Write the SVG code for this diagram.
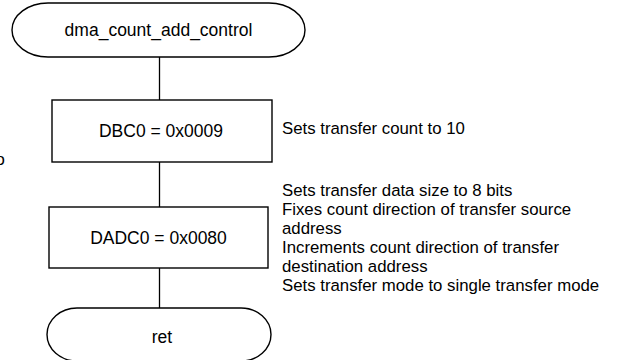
<svg xmlns="http://www.w3.org/2000/svg" width="624" height="360" viewBox="0 0 624 360">
<style>
.shape{fill:#fff;stroke:#000;stroke-width:1.4}
.conn{fill:none;stroke:#000;stroke-width:1.3}
.lbl{font-family:"Liberation Sans",Arial,Helvetica,sans-serif;font-size:17.5px;fill:#000;text-anchor:middle}
.note{font-family:"Liberation Sans",Arial,Helvetica,sans-serif;font-size:16.8px;fill:#000}
</style>
<rect width="624" height="360" fill="#fff"/>
<g id="connectors">
<line class="conn" x1="159.5" y1="57" x2="159.5" y2="100"/>
<line class="conn" x1="159.5" y1="162" x2="159.5" y2="207"/>
<line class="conn" x1="159.5" y1="268" x2="159.5" y2="308"/>
</g>
<g id="start">
<rect class="shape" x="12" y="3" width="293" height="54" rx="36" ry="27"/>
<text class="lbl" x="158.5" y="36">dma_count_add_control</text>
</g>
<g id="dbc0">
<rect class="shape" x="52" y="100" width="220" height="62"/>
<text class="lbl" x="161" y="137">DBC0 = 0x0009</text>
</g>
<g id="dadc0">
<rect class="shape" x="49" y="207" width="219" height="61"/>
<text class="lbl" x="158.5" y="244">DADC0 = 0x0080</text>
</g>
<g id="ret">
<rect class="shape" x="47" y="308" width="224" height="53" rx="30" ry="26.5"/>
<text class="lbl" x="162" y="343">ret</text>
</g>
<g id="notes">
<text class="note" x="282" y="134">Sets transfer count to 10</text>
<text class="note" x="282" y="196">Sets transfer data size to 8 bits</text>
<text class="note" x="282" y="215">Fixes count direction of transfer source</text>
<text class="note" x="282" y="234">address</text>
<text class="note" x="282" y="253">Increments count direction of transfer</text>
<text class="note" x="282" y="272">destination address</text>
<text class="note" x="282" y="291">Sets transfer mode to single transfer mode</text>
<text class="note" x="-4.5" y="165">o</text>
</g>
</svg>
